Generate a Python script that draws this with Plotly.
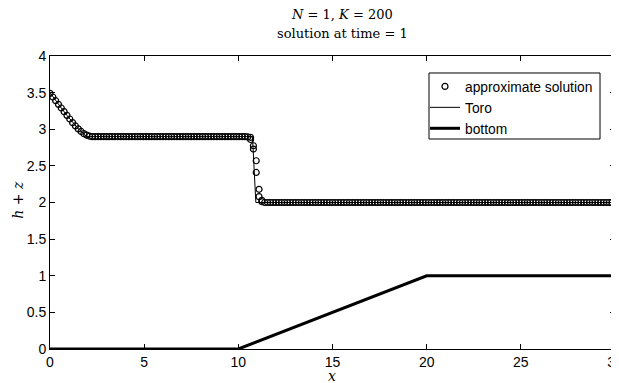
import numpy as np
import plotly.graph_objects as go

# ---------------- data ----------------
K = 200
x_min, x_max = 0.0, 30.0

# approximate solution (h+z) at element interfaces x = 0, 0.15, ..., 30
approx_h = [
    3.49, 3.44, 3.39, 3.34, 3.29, 3.24, 3.19, 3.14, 3.09, 3.045,
    3.005, 2.97, 2.94, 2.92, 2.905, 2.90, 2.90, 2.90, 2.90, 2.90,
    2.90, 2.90, 2.90, 2.90, 2.90, 2.90, 2.90, 2.90, 2.90, 2.90,
    2.90, 2.90, 2.90, 2.90, 2.90, 2.90, 2.90, 2.90, 2.90, 2.90,
    2.90, 2.90, 2.90, 2.90, 2.90, 2.90, 2.90, 2.90, 2.90, 2.90,
    2.90, 2.90, 2.90, 2.90, 2.90, 2.90, 2.90, 2.90, 2.90, 2.90,
    2.90, 2.90, 2.90, 2.90, 2.90, 2.90, 2.90, 2.90, 2.90, 2.90,
    2.895, 2.89, 2.775, 2.57, 2.18, 2.03, 2.00, 2.00, 2.00, 2.00,
    2.00, 2.00, 2.00, 2.00, 2.00, 2.00, 2.00, 2.00, 2.00, 2.00,
    2.00, 2.00, 2.00, 2.00, 2.00, 2.00, 2.00, 2.00, 2.00, 2.00,
    2.00, 2.00, 2.00, 2.00, 2.00, 2.00, 2.00, 2.00, 2.00, 2.00,
    2.00, 2.00, 2.00, 2.00, 2.00, 2.00, 2.00, 2.00, 2.00, 2.00,
    2.00, 2.00, 2.00, 2.00, 2.00, 2.00, 2.00, 2.00, 2.00, 2.00,
    2.00, 2.00, 2.00, 2.00, 2.00, 2.00, 2.00, 2.00, 2.00, 2.00,
    2.00, 2.00, 2.00, 2.00, 2.00, 2.00, 2.00, 2.00, 2.00, 2.00,
    2.00, 2.00, 2.00, 2.00, 2.00, 2.00, 2.00, 2.00, 2.00, 2.00,
    2.00, 2.00, 2.00, 2.00, 2.00, 2.00, 2.00, 2.00, 2.00, 2.00,
    2.00, 2.00, 2.00, 2.00, 2.00, 2.00, 2.00, 2.00, 2.00, 2.00,
    2.00, 2.00, 2.00, 2.00, 2.00, 2.00, 2.00, 2.00, 2.00, 2.00,
    2.00, 2.00, 2.00, 2.00, 2.00, 2.00, 2.00, 2.00, 2.00, 2.00,
    2.00,
]
# second (neighbouring element) node values at the interfaces inside the jump
shock_x = [10.65, 10.80, 10.95, 11.10, 11.25]
shock_h = [2.86, 2.73, 2.41, 2.08, 2.01]

# Toro exact solution
toro_x = [0.0, 0.3, 0.6, 0.9, 1.2, 1.5, 1.8, 1.95, 10.75, 10.93, 30.0]
toro_h = [3.50, 3.39, 3.29, 3.19, 3.09, 3.005, 2.94, 2.90, 2.90, 2.00, 2.00]

# bottom topography
bottom_x = [0, 10, 20, 30]
bottom_z = [0, 0, 1, 1]

x_ticks = [0, 5, 10, 15, 20, 25, 30]
y_ticks = [0, 0.5, 1, 1.5, 2, 2.5, 3, 3.5, 4]

# ---------------- figure ----------------
node_x = list(np.linspace(x_min, x_max, K + 1))
approx_x = node_x + shock_x
approx_y = approx_h + shock_h

fig = go.Figure()
fig.add_trace(go.Scatter(
    x=approx_x, y=approx_y, mode="markers", name="approximate solution",
    marker=dict(symbol="circle-open", size=6, color="black", line=dict(width=1.2, color="black")),
))
fig.add_trace(go.Scatter(
    x=toro_x, y=toro_h, mode="lines", name="Toro",
    line=dict(color="black", width=1),
))
fig.add_trace(go.Scatter(
    x=bottom_x, y=bottom_z, mode="lines", name="bottom",
    line=dict(color="black", width=3),
))

sans = "Liberation Sans, Arial, sans-serif"
serif = "DejaVu Serif, serif"

axis_common = dict(
    showline=True, linecolor="black", linewidth=1, mirror="ticks",
    ticks="inside", ticklen=5, tickcolor="black", tickwidth=1,
    showgrid=False, zeroline=False, automargin=False,
    ticklabeloverflow="allow",
    tickfont=dict(family=sans, size=14, color="black"),
)

# page body has an 8px margin; figure is sized so it fills the 619x383 window
fig.update_layout(
    width=611, height=375,
    margin=dict(l=42, r=4, t=48, b=34),
    paper_bgcolor="white", plot_bgcolor="white",
    showlegend=True,
    legend=dict(
        x=0.6637, y=0.949, xanchor="left", yanchor="top",
        borderwidth=0, bgcolor="rgba(0,0,0,0)",
        font=dict(family=sans, size=13.8, color="black"),
        tracegroupgap=0, itemwidth=30,
    ),
    shapes=[
        dict(type="rect", xref="paper", yref="paper",
             x0=0.6708, x1=0.9735, y0=0.7167, y1=0.942,
             line=dict(color="black", width=1), fillcolor="white", layer="above"),
    ],
    annotations=[
        dict(text="<i>N</i> = 1, <i>K</i> = 200", xref="paper", yref="paper",
             x=0.517, y=1.140, xanchor="center", yanchor="middle", showarrow=False,
             font=dict(family=serif, size=13, color="black")),
        dict(text="solution at time = 1", xref="paper", yref="paper",
             x=0.517, y=1.078, xanchor="center", yanchor="middle", showarrow=False,
             font=dict(family=serif, size=13, color="black")),
        dict(text="<i>x</i>", xref="paper", yref="paper",
             x=0.499, y=-0.092, xanchor="center", yanchor="middle", showarrow=False,
             font=dict(family=serif, size=14, color="black")),
        dict(text="<i>h</i> + <i>z</i>", xref="paper", yref="paper",
             x=-0.057, y=0.509, xanchor="center", yanchor="middle", showarrow=False,
             textangle=-90, font=dict(family=serif, size=14, color="black")),
    ],
)
fig.update_xaxes(range=[0, 30], tickvals=x_ticks, ticktext=[str(v) for v in x_ticks],
                 **axis_common)
fig.update_yaxes(range=[0, 4], tickvals=y_ticks, ticktext=[("%g" % v) for v in y_ticks],
                 **axis_common)

fig.write_html("out.html")
